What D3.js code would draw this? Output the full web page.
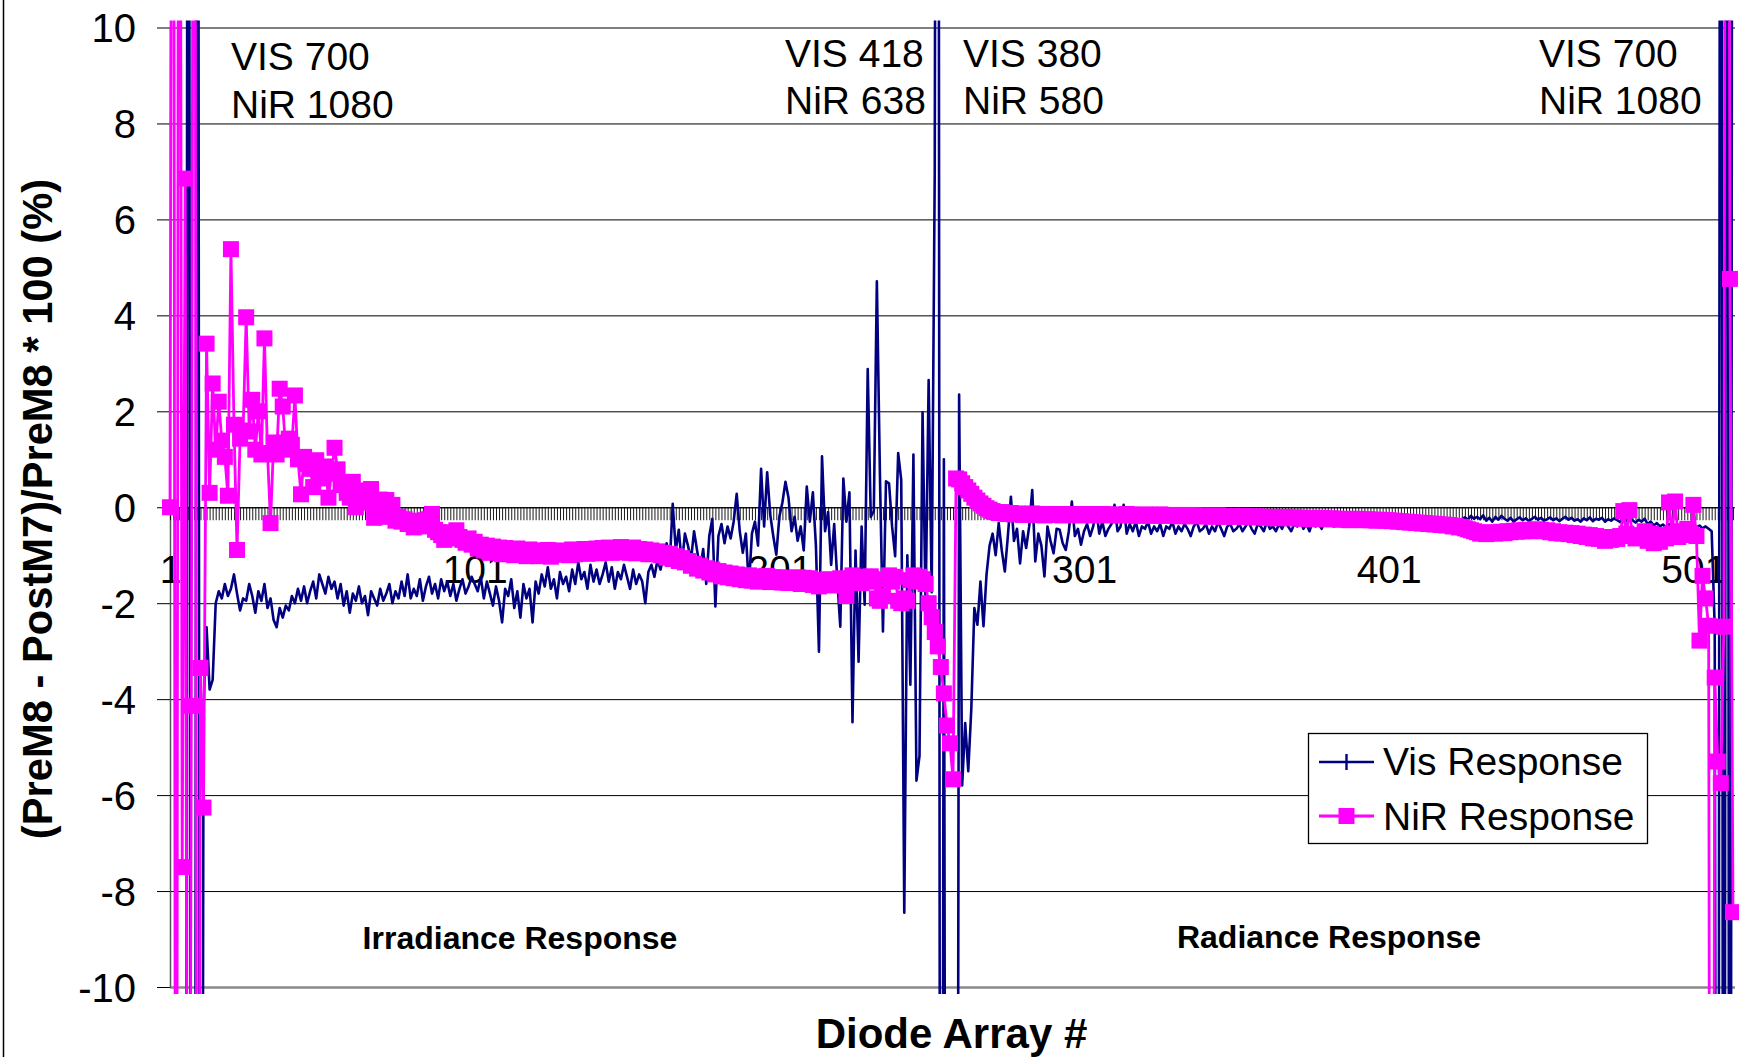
<!DOCTYPE html>
<meta charset="utf-8">
<style>
  body { margin: 0; background: #fff; }
  svg { display: block; }
</style>
<body>
<script src="https://d3js.org/d3.v7.min.js"></script>
<script>

var width = 1739,
    height = 1057;

// plot area
var plotLeft = 170, plotRight = 1733, plotTop = 27.5, plotBottom = 987;

// % change per diode, one row per 10 diodes (values beyond +-10 run off the chart)
var visResponse = [
  -40, -40, -40, -40, -40, -40, 40, -40, -40, 40,
  -40, -4.2, -2.5, -3.8, -3.6, -2.0, -1.75, -1.9, -1.6, -1.85,
  -1.7, -1.4, -1.8, -2.15, -1.9, -1.95, -1.6, -1.85, -2.2, -1.75,
  -1.95, -1.6, -2.1, -1.9, -2.35, -2.5, -2.1, -2.3, -2.05, -2.15,
  -1.85, -2.0, -1.7, -1.95, -1.65, -2.0, -1.75, -1.55, -1.9, -1.4,
  -1.6, -1.8, -1.45, -1.7, -1.55, -1.9, -1.6, -2.05, -1.75, -2.2,
  -1.8, -1.95, -1.65, -2.0, -1.85, -2.25, -1.75, -1.9, -2.05, -1.7,
  -1.95, -1.8, -1.6, -2.0, -1.75, -1.9, -1.55, -1.85, -1.4, -1.9,
  -1.7, -1.85, -1.5, -1.95, -1.65, -1.45, -1.8, -1.6, -1.9, -1.5,
  -1.75, -1.55, -1.85, -1.6, -1.95, -1.7, -1.5, -1.8, -1.65, -1.45,
  -1.6, -1.75, -1.45, -1.9, -1.55, -1.8, -2.05, -1.65, -1.95, -2.4,
  -1.7, -1.85, -1.5, -2.1, -1.75, -2.3, -1.6, -1.9, -1.7, -2.4,
  -1.55, -1.8, -1.4, -1.65, -1.25, -1.7, -1.5, -1.9, -1.35, -1.6,
  -1.45, -1.75, -1.3, -1.6, -1.15, -1.5, -1.35, -1.7, -1.2, -1.55,
  -1.3, -1.6, -1.4, -1.15, -1.55, -1.25, -1.7, -1.35, -1.5, -1.2,
  -1.45, -1.7, -1.3, -1.6, -1.4, -1.55, -2.0, -1.35, -1.2, -1.45,
  -1.1, -1.3, -1.0, -0.75, -1.2, 0.07, -0.9, -0.47, -1.2, -0.55,
  -0.8, -1.1, -0.5, -0.9, -1.3, -0.87, -1.6, -0.6, -0.24, -2.07,
  -0.6, -0.35, -0.75, -0.4, -0.65, -0.3, 0.28, -0.5, -0.95, -0.55,
  -1.65, -0.55, -0.3, -0.8, 0.8, -0.4, 0.73, -0.15, -0.6, -0.99,
  -0.2, 0.1, 0.53, 0.2, -0.5, -0.2, -0.7, -0.4, -0.9, 0.43,
  -0.3, 0.31, -0.8, -3.01, 1.06, -0.5, -0.1, -1.2, -0.35, -1.5,
  -2.49, 0.6, -0.3, 0.31, -4.48, -0.9, -3.22, -0.4, -2.03, 2.88,
  -0.2, -0.08, 4.71, 0.71, -2.59, 0.54, 0.5, -0.4, -1.02, 1.13,
  0.57, -8.45, -1.0, -3.7, 1.1, -5.7, -5.18, 1.98, -2.07, 2.65,
  -1.77, 7.0, 40, -40, 1.0, -40, -40, -40, -40, 2.35,
  -5.8, -4.5, -5.5, -4.2, -2.1, -2.45, -1.55, -2.48, -1.4, -0.8,
  -0.55, -1.0, -0.33, -0.9, -1.34, -0.6, 0.22, -0.7, -0.45, -1.17,
  -0.5, -0.85, -0.4, 0.36, -1.13, -0.55, -0.8, -1.44, -0.4, -0.7,
  -0.96, -0.45, -0.47, -0.75, -0.89, -0.5, 0.12, -0.6, -0.45, -0.78,
  -0.5, -0.35, -0.6, -0.4, -0.05, -0.55, -0.3, -0.6, -0.45, -0.35,
  0.05, -0.5, -0.4, 0.05, -0.55, -0.35, -0.5, -0.3, -0.6, -0.4,
  -0.45, -0.3, -0.55, -0.4, -0.5, -0.35, -0.6, -0.4, -0.45, -0.3,
  -0.55, -0.4, -0.5, -0.35, -0.45, -0.6, -0.4, -0.3, -0.5, -0.45,
  -0.35, -0.55, -0.4, -0.5, -0.3, -0.45, -0.6, -0.4, -0.35, -0.5,
  -0.45, -0.35, -0.5, -0.4, -0.3, -0.45, -0.55, -0.35, -0.4, -0.5,
  -0.3, -0.45, -0.4, -0.5, -0.35, -0.45, -0.3, -0.4, -0.5, -0.35,
  -0.4, -0.3, -0.45, -0.35, -0.5, -0.3, -0.4, -0.35, -0.45, -0.3,
  -0.35, -0.3, -0.4, -0.25, -0.35, -0.3, -0.4, -0.3, -0.25, -0.35,
  -0.3, -0.35, -0.25, -0.3, -0.35, -0.25, -0.3, -0.35, -0.3, -0.25,
  -0.28, -0.32, -0.26, -0.3, -0.34, -0.27, -0.31, -0.25, -0.33, -0.29,
  -0.26, -0.31, -0.28, -0.24, -0.3, -0.27, -0.32, -0.26, -0.29, -0.25,
  -0.3, -0.27, -0.23, -0.28, -0.25, -0.21, -0.26, -0.18, -0.24, -0.2,
  -0.25, -0.17, -0.28, -0.22, -0.3, -0.2, -0.26, -0.18, -0.24, -0.28,
  -0.22, -0.3, -0.25, -0.21, -0.27, -0.23, -0.29, -0.24, -0.2, -0.26,
  -0.22, -0.28, -0.25, -0.21, -0.27, -0.23, -0.29, -0.24, -0.2, -0.26,
  -0.22, -0.28, -0.25, -0.3, -0.23, -0.27, -0.21, -0.29, -0.24, -0.26,
  -0.22, -0.3, -0.25, -0.28, -0.23, -0.27, -0.31, -0.25, -0.29, -0.22,
  -0.27, -0.32, -0.26, -0.3, -0.24, -0.35, -0.3, -0.38, -0.33, -0.4,
  -0.36, -0.42, -0.35, -0.4, -0.37, -0.43, -0.36, -0.41, -0.38, -0.4,
  -0.35, -0.42, -0.38, -0.44, -0.4, -0.45, -0.5, -2.5, -40, 40,
  -40, 40, -40, 40
];

var nirResponse = [
  0, 30, -30, 30, -7.5, 6.85, -30, -4.14, 30, -30,
  -3.35, -6.26, 3.41, 0.3, 2.58, 1.2, 2.2, 1.39, 1.05, 0.24,
  5.38, 1.72, -0.89, 1.43, 1.6, 3.96, 1.58, 2.24, 1.2, 2.0,
  1.1, 3.52, 1.13, -0.33, 1.35, 1.1, 2.47, 2.1, 1.2, 1.43,
  1.3, 2.33, 1.0, 0.27, 1.05, 0.9, 0.8, 0.42, 0.98, 0.75,
  0.6, 0.85, 0.2, 0.7, 1.24, 0.79, 0.5, 0.46, 0.3, 0.2,
  0.53, 0.0, 0.35, 0.25, 0.1, 0.3, 0.38, -0.22, 0.1, 0.16,
  -0.1, 0.15, -0.2, 0.05, -0.28, -0.2, -0.3, -0.25, -0.35, -0.3,
  -0.42, -0.33, -0.28, -0.4, -0.27, -0.25, -0.14, -0.47, -0.52, -0.58,
  -0.68, -0.57, -0.52, -0.65, -0.48, -0.62, -0.68, -0.74, -0.65, -0.78,
  -0.72, -0.86, -0.78, -0.9, -0.8, -0.95, -0.82, -0.92, -0.84, -0.98,
  -0.85, -0.96, -0.88, -1.0, -0.86, -0.97, -0.9, -1.02, -0.88, -0.98,
  -0.9, -1.02, -0.92, -1.0, -0.89, -1.03, -0.93, -0.99, -0.9, -0.97,
  -0.92, -1.0, -0.88, -0.98, -0.9, -0.96, -0.87, -0.97, -0.89, -0.95,
  -0.86, -0.96, -0.85, -0.94, -0.84, -0.95, -0.86, -0.93, -0.83, -0.94,
  -0.85, -0.95, -0.84, -0.96, -0.87, -0.95, -0.88, -0.98, -0.9, -0.97,
  -0.92, -1.0, -0.95, -1.05, -0.97, -1.08, -1.02, -1.12, -1.06, -1.15,
  -1.12, -1.22, -1.18, -1.28, -1.22, -1.32, -1.27, -1.36, -1.3, -1.4,
  -1.33, -1.44, -1.36, -1.46, -1.38, -1.48, -1.4, -1.5, -1.42, -1.52,
  -1.42, -1.53, -1.44, -1.55, -1.45, -1.54, -1.43, -1.56, -1.46, -1.55,
  -1.46, -1.57, -1.47, -1.58, -1.48, -1.56, -1.46, -1.6, -1.47, -1.57,
  -1.48, -1.62, -1.52, -1.65, -1.53, -1.62, -1.5, -1.63, -1.52, -1.6,
  -1.48, -1.57, -1.85, -1.5, -1.42, -1.55, -1.47, -1.58, -1.45, -1.52,
  -1.44, -1.55, -1.9, -1.95, -1.85, -1.5, -1.42, -1.55, -1.45, -1.95,
  -2.0, -1.9, -1.95, -1.52, -1.42, -1.55, -1.45, -1.5, -1.6, -2.0,
  -2.29, -2.6, -2.9, -3.33, -3.88, -4.55, -4.92, -5.67, 0.6, 0.58,
  0.5, 0.42, 0.35, 0.28, 0.2, 0.14, 0.08, 0.03, -0.02, -0.05,
  -0.08, -0.1, -0.12, -0.1, -0.13, -0.14, -0.12, -0.15, -0.13, -0.14,
  -0.16, -0.14, -0.15, -0.13, -0.16, -0.14, -0.15, -0.17, -0.14, -0.16,
  -0.15, -0.16, -0.14, -0.17, -0.15, -0.16, -0.14, -0.16, -0.15, -0.17,
  -0.16, -0.14, -0.15, -0.17, -0.16, -0.15, -0.14, -0.16, -0.15, -0.17,
  -0.16, -0.15, -0.17, -0.16, -0.14, -0.15, -0.17, -0.16, -0.18, -0.16,
  -0.15, -0.17, -0.16, -0.18, -0.17, -0.15, -0.16, -0.18, -0.17, -0.16,
  -0.18, -0.17, -0.19, -0.17, -0.16, -0.18, -0.17, -0.19, -0.18, -0.17,
  -0.19, -0.18, -0.2, -0.18, -0.17, -0.19, -0.18, -0.2, -0.19, -0.18,
  -0.19, -0.2, -0.18, -0.2, -0.19, -0.21, -0.2, -0.19, -0.21, -0.2,
  -0.22, -0.2, -0.21, -0.23, -0.21, -0.22, -0.2, -0.22, -0.23, -0.21,
  -0.23, -0.22, -0.24, -0.22, -0.23, -0.25, -0.23, -0.24, -0.22, -0.24,
  -0.25, -0.23, -0.25, -0.24, -0.26, -0.24, -0.25, -0.27, -0.25, -0.26,
  -0.24, -0.26, -0.27, -0.25, -0.27, -0.26, -0.28, -0.26, -0.27, -0.28,
  -0.27, -0.29, -0.28, -0.3, -0.29, -0.31, -0.3, -0.32, -0.31, -0.33,
  -0.32, -0.34, -0.33, -0.35, -0.34, -0.36, -0.35, -0.37, -0.36, -0.38,
  -0.37, -0.4, -0.39, -0.42, -0.41, -0.44, -0.46, -0.48, -0.5, -0.52,
  -0.55, -0.53, -0.56, -0.54, -0.52, -0.55, -0.53, -0.51, -0.54, -0.5,
  -0.52, -0.49, -0.51, -0.48, -0.5, -0.47, -0.5, -0.48, -0.46, -0.49,
  -0.47, -0.5, -0.48, -0.52, -0.5, -0.54, -0.52, -0.55, -0.53, -0.56,
  -0.54, -0.58, -0.55, -0.6, -0.57, -0.62, -0.58, -0.65, -0.6, -0.66,
  -0.62, -0.7, -0.64, -0.68, -0.62, -0.66, -0.6, -0.08, -0.55, -0.06,
  -0.6, -0.65, -0.58, -0.62, -0.5, -0.7, -0.55, -0.75, -0.6, -0.72,
  -0.58, -0.65, 0.1, -0.55, 0.12, -0.62, -0.5, -0.58, -0.45, -0.55,
  0.05, -0.6, -2.78, -1.43, -1.9, -2.47, -40, -3.55, -5.3, -5.75,
  -2.49, 40, 4.76, -8.44
];

var xTickLabels = [1, 101, 201, 301, 401, 501];
var yTickValues = [-10, -8, -6, -4, -2, 0, 2, 4, 6, 8, 10];

// wavelength notes along the top of the plot
var notes = [
  {x: 231, y: 70, text: "VIS 700"}, {x: 231, y: 118, text: "NiR 1080"},
  {x: 785, y: 67, text: "VIS 418"}, {x: 785, y: 114, text: "NiR 638"},
  {x: 963, y: 67, text: "VIS 380"}, {x: 963, y: 114, text: "NiR 580"},
  {x: 1539, y: 67, text: "VIS 700"}, {x: 1539, y: 114, text: "NiR 1080"}
];

var font = "'Liberation Sans', Arial, Helvetica, sans-serif";
var visColor = "#000080",
    nirColor = "#ff00ff";

var diodes = d3.range(1, nirResponse.length + 1);

var x = d3.scaleLinear().domain([1, diodes.length]).range([plotLeft, plotRight]);
var y = d3.scaleLinear().domain([-10, 10]).range([plotBottom, plotTop]);

var svg = d3.select("body").append("svg")
    .attr("width", width)
    .attr("height", height)
    .style("font-family", font);

// chart area edge on the left
svg.append("line")
    .attr("x1", 3.5).attr("x2", 3.5)
    .attr("y1", 0).attr("y2", height)
    .attr("stroke", "#000").attr("stroke-width", 1.5);

// horizontal gridlines
var grid = svg.append("g")
    .attr("transform", "translate(" + plotLeft + ",0)")
    .call(d3.axisLeft(y).tickValues(yTickValues).tickSize(-(plotRight + 2 - plotLeft)).tickFormat(""));
grid.select(".domain").remove();
grid.selectAll(".tick line")
    .attr("stroke", d => d === -10 ? "#8a8a8a" : "#000")
    .attr("stroke-width", d => d === -10 ? 2.5 : 1);

// y axis
var yAxis = svg.append("g")
    .attr("transform", "translate(" + plotLeft + ",0)")
    .call(d3.axisLeft(y).tickValues(yTickValues).tickSize(13).tickSizeOuter(0).tickPadding(21)
      .tickFormat(d => String(d)));
yAxis.attr("font-family", font).attr("font-size", 40);
yAxis.select(".domain").attr("stroke", "#555").attr("stroke-width", 1.5);
yAxis.selectAll(".tick line").attr("stroke", "#000");
yAxis.selectAll(".tick text").attr("fill", "#000").attr("dy", "0.36em");

// x axis sits on the zero line, one tick per diode
var xAxis = svg.append("g")
    .attr("transform", "translate(0," + y(0) + ")")
    .call(d3.axisBottom(x).tickValues(diodes).tickSize(13).tickSizeOuter(0).tickPadding(35)
      .tickFormat(d => xTickLabels.indexOf(d) >= 0 ? String(d) : ""));
xAxis.attr("font-family", font).attr("font-size", 39);
xAxis.select(".domain").attr("stroke", "#000").attr("stroke-width", 1.2);
xAxis.selectAll(".tick line").attr("stroke", "#000").attr("stroke-width", 0.9);
xAxis.selectAll(".tick text").attr("fill", "#000");

// series
svg.append("clipPath").attr("id", "clip")
  .append("rect")
    .attr("x", plotLeft - 9).attr("y", plotTop - 7)
    .attr("width", plotRight - plotLeft + 18).attr("height", plotBottom - plotTop + 14);

var plot = svg.append("g").attr("clip-path", "url(#clip)");

var line = d3.line()
    .x((d, i) => x(i + 1))
    .y(d => y(d));

plot.append("path")
    .datum(visResponse)
    .attr("d", line)
    .attr("fill", "none")
    .attr("stroke", visColor)
    .attr("stroke-width", 2.6)
    .attr("stroke-linejoin", "round");

plot.append("path")
    .datum(nirResponse)
    .attr("d", line)
    .attr("fill", "none")
    .attr("stroke", nirColor)
    .attr("stroke-width", 2.8)
    .attr("stroke-linejoin", "round");

plot.selectAll("rect.nir")
  .data(nirResponse)
  .join("rect")
    .attr("class", "nir")
    .attr("x", (d, i) => x(i + 1) - 8)
    .attr("y", d => y(d) - 8)
    .attr("width", 16)
    .attr("height", 16)
    .attr("fill", nirColor);

// notes
svg.append("g").selectAll("text")
  .data(notes)
  .join("text")
    .attr("x", d => d.x)
    .attr("y", d => d.y)
    .attr("font-size", 39)
    .text(d => d.text);

svg.append("text")
    .attr("x", 520).attr("y", 949)
    .attr("text-anchor", "middle")
    .attr("font-size", 32).attr("font-weight", "bold")
    .text("Irradiance Response");

svg.append("text")
    .attr("x", 1329).attr("y", 948)
    .attr("text-anchor", "middle")
    .attr("font-size", 32).attr("font-weight", "bold")
    .text("Radiance Response");

// legend
var legend = svg.append("g").attr("transform", "translate(1308,733)");
legend.append("rect")
    .attr("x", 0.5).attr("y", 0.5)
    .attr("width", 339).attr("height", 110)
    .attr("fill", "#fff").attr("stroke", "#000").attr("stroke-width", 1.3);

legend.append("line")
    .attr("x1", 11).attr("x2", 66).attr("y1", 29).attr("y2", 29)
    .attr("stroke", visColor).attr("stroke-width", 2.4);
legend.append("line")
    .attr("x1", 38.5).attr("x2", 38.5).attr("y1", 21).attr("y2", 37)
    .attr("stroke", visColor).attr("stroke-width", 2.4);
legend.append("text")
    .attr("x", 75).attr("y", 42)
    .attr("font-size", 39)
    .text("Vis Response");

legend.append("line")
    .attr("x1", 11).attr("x2", 66).attr("y1", 83).attr("y2", 83)
    .attr("stroke", nirColor).attr("stroke-width", 2.8);
legend.append("rect")
    .attr("x", 30.5).attr("y", 75).attr("width", 16).attr("height", 16)
    .attr("fill", nirColor);
legend.append("text")
    .attr("x", 75).attr("y", 97)
    .attr("font-size", 39)
    .text("NiR Response");

// axis titles
svg.append("text")
    .attr("x", (plotLeft + plotRight) / 2).attr("y", 1048)
    .attr("text-anchor", "middle")
    .attr("font-size", 42).attr("font-weight", "bold")
    .text("Diode Array #");

svg.append("text")
    .attr("transform", "translate(52,509) rotate(-90)")
    .attr("text-anchor", "middle")
    .attr("font-size", 41.7).attr("font-weight", "bold")
    .text("(PreM8 - PostM7)/PreM8 * 100 (%)");

</script>
